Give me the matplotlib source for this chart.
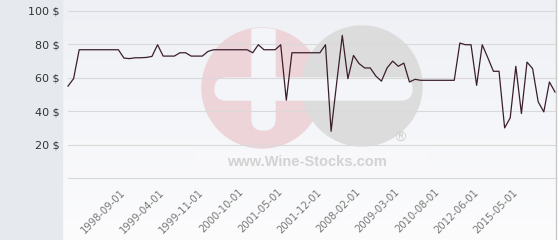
############################
# Libraries
import numpy as np
import matplotlib
matplotlib.use("Agg")
import matplotlib.pyplot as plt
from matplotlib.patches import Circle, Rectangle, FancyBboxPatch
############################
# Data
prices = [55, 59.5, 76.8, 76.8, 76.8, 76.8, 76.8, 76.8, 76.8, 76.8,
          71.8, 71.5, 72, 72, 72.2, 72.8, 79.8, 73, 73, 73,
          75, 75, 73, 73, 73, 75.8, 76.8, 76.8, 76.8, 76.8,
          76.8, 76.8, 76.8, 75, 79.8, 76.8, 76.8, 76.8, 79.8, 46.6,
          75, 75, 75, 75, 75, 75, 79.8, 28, 57, 85.4,
          59.5, 73.4, 68.5, 65.9, 65.9, 61, 58, 65.9, 70, 66.9,
          68.8, 57.5, 59.1, 58.5, 58.5, 58.5, 58.5, 58.5, 58.5, 58.5,
          80.8, 79.8, 79.8, 55.5, 79.8, 72, 63.9, 63.9, 30, 36,
          66.9, 38.6, 69.4, 65.5, 45.6, 39.6, 57.5, 51.5]
tick_labels = ["1998-09-01", "1999-04-01", "1999-11-01", "2000-10-01",
               "2001-05-01", "2001-12-01", "2008-02-01", "2009-03-01",
               "2010-08-01", "2012-06-01", "2015-05-01"]
first_tick = 10
tick_step = 7
y_ticks = [0, 20, 40, 60, 80, 100]
############################
# Figure + background (pixel coordinates)
W, H = 560, 240
fig = plt.figure(figsize=(W / 100, H / 100), dpi=100)
fig.patch.set_facecolor("white")

bg = fig.add_axes([0, 0, 1, 1], zorder=0)
bg.set_xlim(0, W)
bg.set_ylim(H, 0)
bg.axis("off")

# soft vertical gradient of the plot area
top = np.array([238, 240, 245]) / 255
bottom = np.array([252, 252, 253]) / 255
t = np.linspace(0, 1, 100)[:, None, None]
grad = top * (1 - t) + bottom * t
grad = np.repeat(grad, 2, axis=1)
bg.imshow(grad, extent=[63, 556, H, 0], aspect="auto", zorder=0)

# left panel
bg.add_patch(Rectangle((0, 0), 62, H, color="#e6eaee", zorder=1))
bg.plot([556, 556], [0, H], color="#c8c8c8", lw=1, zorder=1)

# watermark logo
pink = Circle((262, 88), 60, color="#ecd4d9", zorder=2)
bg.add_patch(pink)
bg.add_patch(Circle((362, 86), 60, color="#dcdcdc", zorder=3))
bg.add_patch(FancyBboxPatch((215, 78), 197, 22, boxstyle="round,pad=0,rounding_size=11",
                            color="#f4f5f8", zorder=4))
vbar = FancyBboxPatch((252, 20), 23, 110, boxstyle="round,pad=0,rounding_size=11",
                      color="#f4f5f8", zorder=4)
bg.add_patch(vbar)
vbar.set_clip_path(pink)
bg.add_patch(Rectangle((196, 150), 230, 26, color="#f8f8fa", zorder=4))
bg.text(307, 162, "www.Wine-Stocks.com", fontsize=10.5, fontweight="bold",
        family="Liberation Sans", color="#d2d2d2", ha="center", va="center", zorder=5)
bg.text(400, 138, "®", fontsize=10, color="#d0d0d0", ha="center", va="center", zorder=5)

#############################################
# Main chart
ax = fig.add_axes([68 / W, 62 / H, 487 / W, 167 / H], zorder=2)
ax.patch.set_alpha(0)
x = np.arange(len(prices))
ax.plot(x, prices, color="#3b1e2c", lw=0.9, clip_on=False, zorder=3)

ax.set_xlim(0, len(prices) - 1)
ax.set_ylim(0, 100)
ax.set_yticks(y_ticks)
ax.set_yticklabels(["" if v == 0 else "%d $" % v for v in y_ticks],
                   fontsize=8, color="#333333")
ax.yaxis.grid(True, color="#d9d9d9", lw=0.8)
for gl in ax.get_ygridlines():
    gl.set_clip_on(False)
ax.set_axisbelow(True)

tick_pos = [first_tick + tick_step * i for i in range(len(tick_labels))]
ax.set_xticks(tick_pos)
ax.set_xticklabels(tick_labels, rotation=45, ha="right", va="center",
                   rotation_mode="anchor", fontsize=7.2, color="#777777")
ax.tick_params(axis="both", length=0)
ax.tick_params(axis="x", pad=9)
ax.tick_params(axis="y", pad=6)
for s in ax.spines.values():
    s.set_visible(False)

plt.savefig("out.png", dpi=100)
